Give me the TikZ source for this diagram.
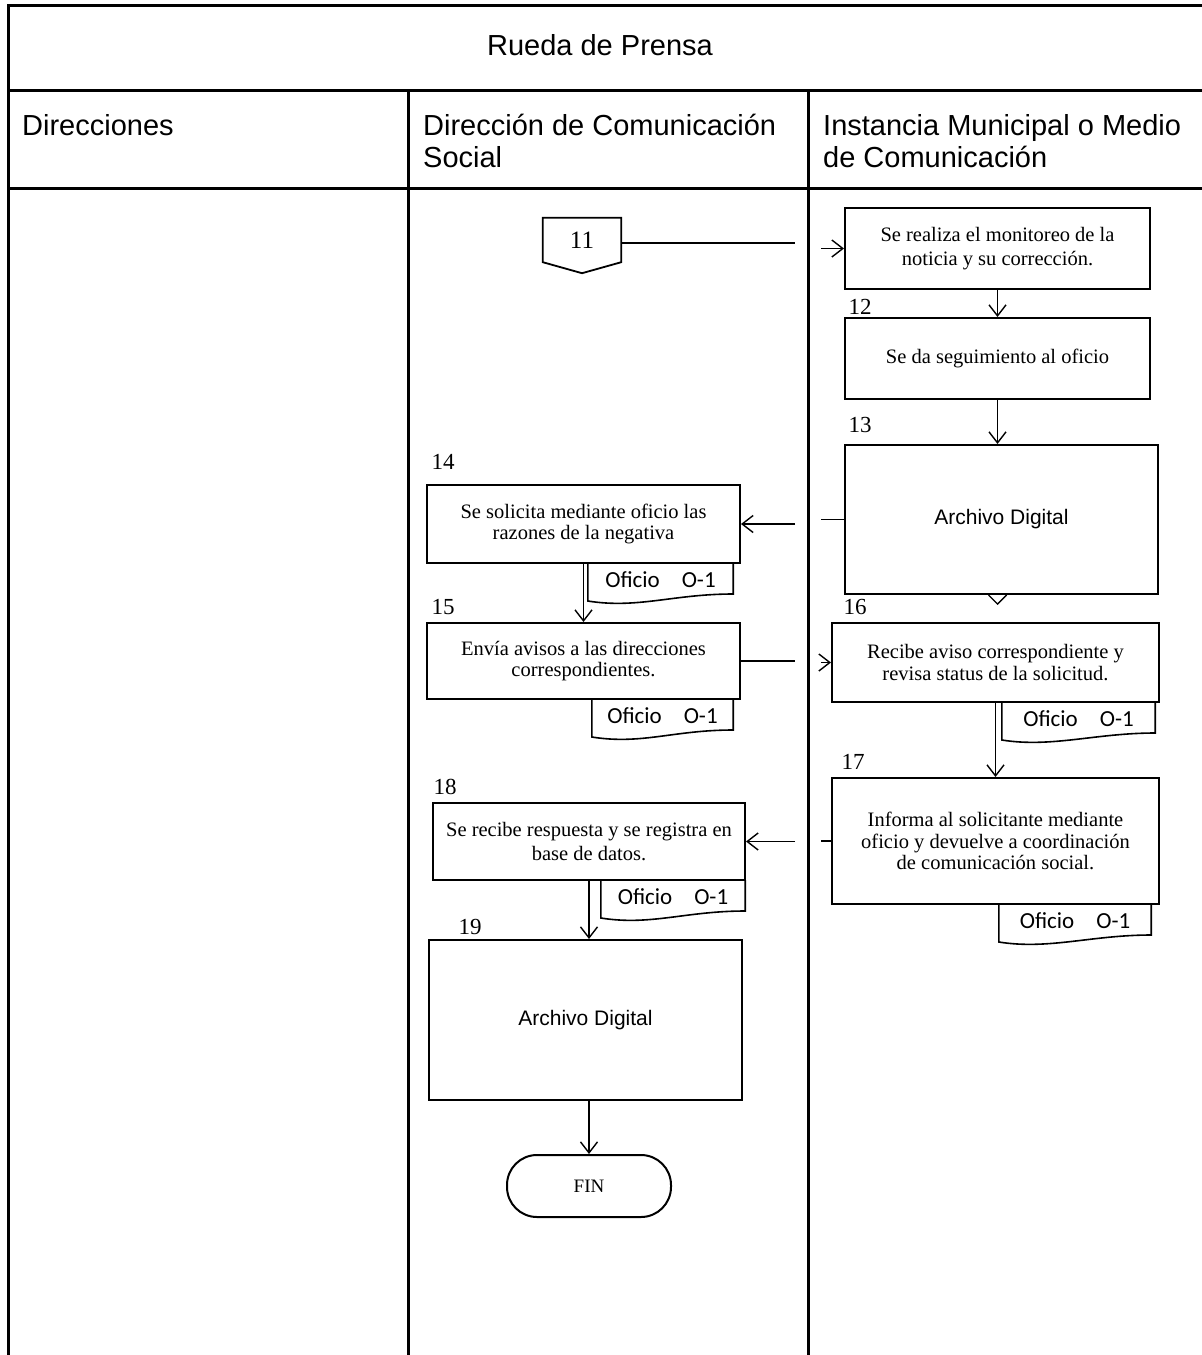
\documentclass[tikz,border=0pt]{standalone}
\usepackage{fontspec}
\setmainfont{Liberation Serif}
\newfontfamily\arialfont{Liberation Sans}
\newfontfamily\calibrifont{Carlito}
\usetikzlibrary{arrows.meta}

\tikzset{
  lane/.style={line width=3pt},
  headtext/.style={font=\arialfont\fontsize{29}{32}\selectfont, align=left, inner sep=0pt},
  procbox/.style={draw, line width=2pt, align=center, font=\fontsize{20.5}{21.5}\selectfont},
  archbox/.style={draw, line width=2pt, font=\arialfont\fontsize{21}{24}\selectfont},
  docbox/.style={anchor=north, minimum height=32pt, inner sep=0pt, font=\calibrifont\fontsize{23}{26}\selectfont},
  docline/.style={line width=1.6pt},
  numlabel/.style={inner sep=0pt, font=\fontsize{23}{24}\selectfont},
  flow/.style={line width=1.4pt, -{Straight Barb[length=11pt,width=17pt]}},
  flowline/.style={line width=1.4pt}
}

\begin{document}
\begin{tikzpicture}[x=1pt,y=-1pt]
\useasboundingbox (0,0) rectangle (1202,1355);

% tabla
\draw[lane] (8,1355) -- (8,5) -- (1202,5);
\draw[lane] (8,90) -- (1202,90);
\draw[lane] (8,188) -- (1202,188);
\draw[lane] (408,90) -- (408,1355);
\draw[lane] (808,90) -- (808,1355);

\node[headtext] (titulo) at (600,45) {Rueda de Prensa};
\node[headtext, anchor=base west] (direcciones) at (22,135) {Direcciones};
\node[headtext, anchor=base west] (comsocial) at (423,167) {Dirección de Comunicación\\Social};
\node[headtext, anchor=base west] (instancia) at (823,167) {Instancia Municipal o Medio\\de Comunicación};

% cajas
\node[minimum width=78pt, minimum height=44pt, font=\fontsize{25}{25}\selectfont] (off11) at (582,240) {11};
\draw[line width=1.8pt] (off11.north west) -- (off11.south west) -- ([yshift=-11pt]off11.south) -- (off11.south east) -- (off11.north east) -- cycle;

\node[procbox, minimum width=305pt, minimum height=81pt, font=\fontsize{20.5}{23.5}\selectfont] (mon) at (997.5,248.5) {Se realiza el monitoreo de la\\noticia y su corrección.};
\node[procbox, minimum width=305pt, minimum height=81pt] (seg) at (997.5,358.5) {Se da seguimiento al oficio};
\node[archbox, minimum width=313pt, minimum height=149pt] (arch13) at (1001.5,519.5) {Archivo Digital};
\node[procbox, minimum width=313pt, minimum height=78pt] (sol) at (583.5,524) {Se solicita mediante oficio las\\razones de la negativa};
\node[procbox, minimum width=313pt, minimum height=76pt] (env) at (583.5,661) {Envía avisos a las direcciones\\correspondientes.};
\node[procbox, minimum width=327pt, minimum height=79pt] (rec) at (995.5,662.5) {Recibe aviso correspondiente y\\revisa status de la solicitud.};
\node[procbox, minimum width=327pt, minimum height=126pt] (inf) at (995.5,841) {Informa al solicitante mediante\\oficio y devuelve a coordinación\\de comunicación social.};
\node[procbox, minimum width=312pt, minimum height=77pt, font=\fontsize{20.5}{23.5}\selectfont] (resp) at (589,841.5) {Se recibe respuesta y se registra en\\base de datos.};
\node[archbox, minimum width=313pt, minimum height=160pt] (arch19) at (585.5,1020) {Archivo Digital};
\node[procbox, rounded corners=30pt, minimum width=164pt, minimum height=62pt, font=\fontsize{19}{19}\selectfont] (fin) at (589,1186) {FIN};

% oficios
\node[docbox, minimum width=145pt] (of14) at (660.5,563) {Oficio\hspace{22pt}O-1};
\node[docbox, minimum width=141pt] (of15) at (662.5,699) {Oficio\hspace{22pt}O-1};
\node[docbox, minimum width=153pt] (of16) at (1078.5,702) {Oficio\hspace{22pt}O-1};
\node[docbox, minimum width=152pt] (of17) at (1075,904) {Oficio\hspace{22pt}O-1};
\node[docbox, minimum width=144pt] (of18) at (673,880) {Oficio\hspace{22pt}O-1};
\foreach \d in {of14,of15,of16,of17,of18}
  \draw[docline] (\d.north west) -- ++(0,38) .. controls +(50,8) and +(-60,0) .. ([yshift=-31pt]\d.north east) -- (\d.north east);

% numeros
\foreach \n/\x/\y in {12/860/307, 13/860/425, 14/443/462, 15/443/607, 16/855/607, 17/853/762, 18/445/787, 19/470/927}
  \node[numlabel] (num\n) at (\x,\y) {\n};

% flechas
\coordinate (gapL) at (795,0);
\coordinate (gapR) at (821,0);

\draw[flowline] ([yshift=-3pt]off11.east) -- ([yshift=-3pt]off11.east -| gapL);
\draw[flow] (gapR |- mon.west) -- (mon.west);
\draw[flow] (mon) -- (seg);
\draw[flow] (seg.south) -- (seg.south |- arch13.north);
\draw[flowline] ([xshift=-13pt]arch13.south) -- ([xshift=-4pt,yshift=-9pt]arch13.south) -- ([xshift=5pt]arch13.south);
\draw[flowline] (arch13.west) -- (arch13.west -| gapR);
\draw[flow] (gapL |- sol.east) -- (sol.east);
\draw[flow] (sol) -- (env);
\draw[flowline] (env.east) -- (env.east -| gapL);
\draw[flow] (gapR |- rec.west) -- (rec.west);
\draw[flow] (rec) -- (inf);
\draw[flowline] (inf.west) -- (inf.west -| gapR);
\draw[flow] (gapL |- resp.east) -- (resp.east);
\draw[flow] (resp.south) -- (resp.south |- arch19.north);
\draw[flow] (fin |- arch19.south) -- (fin.north);
\end{tikzpicture}
\end{document}
